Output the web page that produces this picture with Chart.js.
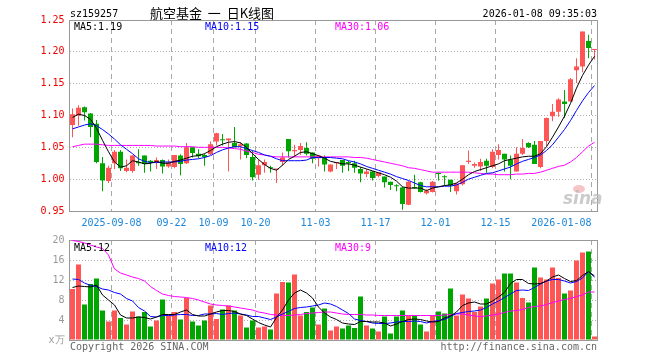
<!DOCTYPE html>
<html>
<head>
<meta charset="utf-8">
<script src="https://cdn.jsdelivr.net/npm/chart.js@4.4.1/dist/chart.umd.min.js"></script>
<style>
    html, body { margin: 0; padding: 0; background: #fff; }
    #wrap { position: relative; width: 660px; height: 360px; }
    #wrap canvas { position: absolute; left: 0; top: 0; }
</style>
</head>
<body>
<div id="wrap">
    <canvas id="kline" width="660" height="360"></canvas>
    <canvas id="vol" width="660" height="360"></canvas>
</div>
<script>
// Trading days shown (2025-08-28 .. 2026-01-08)
const dates = [
    '2025-08-28','2025-08-29','2025-09-01','2025-09-02','2025-09-03','2025-09-04','2025-09-05',
    '2025-09-08','2025-09-09','2025-09-10','2025-09-11','2025-09-12','2025-09-15','2025-09-16',
    '2025-09-17','2025-09-18','2025-09-19','2025-09-22','2025-09-23','2025-09-24','2025-09-25',
    '2025-09-26','2025-09-29','2025-09-30','2025-10-09','2025-10-10','2025-10-13','2025-10-14',
    '2025-10-15','2025-10-16','2025-10-17','2025-10-20','2025-10-21','2025-10-22','2025-10-23',
    '2025-10-24','2025-10-27','2025-10-28','2025-10-29','2025-10-30','2025-10-31','2025-11-03',
    '2025-11-04','2025-11-05','2025-11-06','2025-11-07','2025-11-10','2025-11-11','2025-11-12',
    '2025-11-13','2025-11-14','2025-11-17','2025-11-18','2025-11-19','2025-11-20','2025-11-21',
    '2025-11-24','2025-11-25','2025-11-26','2025-11-27','2025-11-28','2025-12-01','2025-12-02',
    '2025-12-03','2025-12-04','2025-12-05','2025-12-08','2025-12-09','2025-12-10','2025-12-11',
    '2025-12-12','2025-12-15','2025-12-16','2025-12-17','2025-12-18','2025-12-19','2025-12-22',
    '2025-12-23','2025-12-24','2025-12-25','2025-12-26','2025-12-29','2025-12-30','2025-12-31',
    '2026-01-05','2026-01-06','2026-01-07','2026-01-08'
];

const openP = [
    1.085,1.100,1.113,1.103,1.087,1.025,0.997,1.025,1.043,1.013,
    1.013,1.027,1.037,1.029,1.027,1.030,1.020,1.019,1.037,1.025,
    1.050,1.040,1.038,1.039,1.059,1.062,1.061,1.057,1.052,1.056,
    1.035,1.007,1.022,1.018,1.015,1.027,1.063,1.044,1.046,1.049,
    1.042,1.033,1.035,1.012,1.025,1.030,1.027,1.025,1.016,1.008,
    1.012,1.005,1.004,0.996,0.990,0.987,0.960,0.987,0.995,0.978,
    0.980,1.009,1.004,0.999,0.981,0.992,1.027,1.021,1.020,1.029,
    1.019,1.038,1.040,1.031,1.012,1.040,1.057,1.054,1.019,1.060,
    1.099,1.106,1.122,1.122,1.171,1.177,1.217,1.203
];
const highP = [
    1.111,1.116,1.114,1.104,1.093,1.035,1.021,1.046,1.046,1.031,
    1.038,1.047,1.037,1.030,1.034,1.031,1.031,1.038,1.039,1.057,
    1.050,1.047,1.040,1.059,1.073,1.071,1.064,1.082,1.058,1.057,
    1.045,1.031,1.031,1.021,1.016,1.042,1.063,1.054,1.057,1.058,
    1.042,1.037,1.037,1.023,1.027,1.030,1.029,1.029,1.019,1.016,
    1.013,1.011,1.004,0.996,0.992,0.988,0.997,1.007,0.996,0.984,
    0.997,1.011,1.006,0.999,0.994,1.022,1.045,1.026,1.032,1.032,
    1.047,1.055,1.040,1.037,1.050,1.063,1.058,1.060,1.060,1.097,
    1.118,1.127,1.140,1.159,1.190,1.232,1.227,1.204
];
const lowP = [
    1.066,1.084,1.092,1.066,1.025,0.981,0.994,1.016,1.013,1.011,
    1.010,1.021,1.010,1.012,1.016,1.009,1.018,1.017,1.006,1.024,
    1.034,1.033,1.021,1.038,1.053,1.053,1.012,1.050,1.031,1.033,
    0.998,0.999,1.010,1.010,0.994,1.021,1.034,1.035,1.038,1.037,
    1.025,1.020,1.012,1.011,1.016,1.010,1.013,1.010,0.995,1.003,
    0.998,1.003,0.987,0.983,0.981,0.952,0.959,0.985,0.979,0.976,
    0.979,0.998,0.990,0.980,0.976,0.990,1.024,1.018,1.013,1.010,
    1.017,1.031,1.012,1.000,1.012,1.038,1.049,1.024,1.017,1.052,
    1.091,1.098,1.096,1.122,1.151,1.168,1.190,1.188
];
const closeP = [
    1.102,1.112,1.105,1.082,1.027,0.998,1.018,1.043,1.017,1.018,
    1.037,1.025,1.024,1.027,1.030,1.020,1.026,1.038,1.024,1.050,
    1.041,1.036,1.035,1.055,1.072,1.061,1.064,1.050,1.055,1.038,
    1.003,1.022,1.027,1.017,1.016,1.034,1.044,1.046,1.052,1.040,
    1.032,1.037,1.023,1.023,1.027,1.021,1.025,1.018,1.009,1.012,
    1.002,1.011,0.995,0.991,0.989,0.961,0.996,0.986,0.980,0.982,
    0.996,1.008,1.003,0.990,0.993,1.022,1.029,1.024,1.027,1.021,
    1.043,1.046,1.031,1.021,1.040,1.049,1.050,1.024,1.060,1.096,
    1.106,1.125,1.118,1.157,1.177,1.232,1.206,1.204
];

const ma5 = [
    1.097,1.102,1.100,1.094,1.080,1.061,1.043,1.027,1.019,1.021,
    1.029,1.027,1.024,1.025,1.028,1.025,1.025,1.028,1.030,1.033,
    1.036,1.037,1.040,1.045,1.051,1.055,1.058,1.059,1.057,1.050,
    1.040,1.031,1.023,1.017,1.014,1.022,1.031,1.036,1.042,1.043,
    1.040,1.037,1.033,1.028,1.026,1.024,1.024,1.022,1.019,1.016,
    1.013,1.010,1.007,1.003,0.997,0.988,0.986,0.986,0.986,0.982,
    0.986,0.988,0.990,0.991,0.994,1.000,1.007,1.012,1.015,1.018,
    1.021,1.024,1.029,1.031,1.033,1.035,1.036,1.036,1.040,1.051,
    1.066,1.082,1.099,1.119,1.143,1.163,1.179,1.193
];
const ma10 = [
    1.079,1.082,1.085,1.087,1.084,1.078,1.071,1.063,1.054,1.047,
    1.040,1.032,1.028,1.026,1.026,1.027,1.027,1.027,1.028,1.030,
    1.031,1.032,1.034,1.037,1.042,1.046,1.049,1.051,1.051,1.048,
    1.045,1.042,1.038,1.036,1.032,1.029,1.029,1.029,1.029,1.030,
    1.034,1.034,1.034,1.034,1.033,1.032,1.029,1.027,1.024,1.020,
    1.017,1.014,1.011,1.008,1.004,1.001,0.998,0.994,0.990,0.988,
    0.988,0.988,0.989,0.989,0.991,0.995,1.000,1.003,1.006,1.009,
    1.010,1.013,1.016,1.019,1.024,1.028,1.031,1.034,1.038,1.045,
    1.054,1.066,1.078,1.092,1.108,1.123,1.136,1.147
];
const ma30 = [
    1.051,1.053,1.055,1.055,1.055,1.054,1.053,1.053,1.053,1.053,
    1.053,1.053,1.053,1.053,1.052,1.052,1.052,1.052,1.051,1.051,
    1.051,1.050,1.050,1.050,1.050,1.050,1.049,1.048,1.047,1.044,
    1.042,1.039,1.038,1.036,1.035,1.035,1.035,1.035,1.035,1.035,
    1.035,1.035,1.035,1.035,1.035,1.035,1.035,1.034,1.034,1.033,
    1.031,1.029,1.027,1.025,1.023,1.021,1.018,1.017,1.015,1.013,
    1.011,1.011,1.011,1.011,1.011,1.011,1.011,1.010,1.009,1.008,
    1.008,1.007,1.007,1.007,1.008,1.008,1.009,1.009,1.011,1.014,
    1.017,1.020,1.022,1.027,1.034,1.043,1.052,1.058
];

// volume in 万 (10k) units
const volume = [
    10.2,15.1,7.1,11.2,12.3,5.9,3.7,5.9,4.4,3.1,
    5.7,4.7,5.6,2.7,3.9,8.1,5.1,5.6,4.1,8.4,
    3.7,2.9,3.9,6.9,4.2,6.1,6.9,5.9,4.9,2.5,
    3.9,2.5,2.7,2.1,9.3,11.6,11.5,13.1,4.9,5.6,
    6.5,3.1,6.3,1.9,2.7,2.3,2.9,2.4,8.7,2.9,
    2.3,1.7,4.7,1.3,4.7,5.9,4.9,4.9,3.1,1.7,
    4.9,5.7,5.3,10.3,4.9,9.1,8.3,5.6,6.7,8.3,
    11.3,12.1,13.3,13.3,11.5,8.4,7.5,14.5,12.5,12.1,
    14.5,12.4,9.3,9.9,15.9,17.5,17.7,0.7
];
const volMa5 = [
    10.5,10.8,10.7,10.6,11.0,9.0,8.0,7.0,5.0,4.4,
    4.4,4.6,4.5,4.2,4.6,5.1,5.1,5.1,5.6,6.0,
    5.1,4.8,4.8,5.2,5.6,5.9,5.9,5.7,5.2,4.9,
    4.2,3.5,3.0,2.6,4.5,6.0,8.0,9.4,10.0,9.4,
    8.4,6.6,5.4,4.6,4.1,3.4,3.2,3.1,3.7,3.7,
    3.6,3.6,3.4,2.8,3.2,3.7,4.1,4.2,4.1,3.8,
    3.6,3.7,4.4,4.8,5.6,6.9,7.4,7.6,7.2,7.2,
    7.8,8.6,9.5,11.3,12.1,12.1,11.3,11.2,11.3,11.8,
    12.6,13.0,12.3,11.7,11.9,12.9,13.7,12.8
];
const volMa10 = [
    12.2,12.1,11.4,10.9,10.7,10.2,10.0,9.5,9.2,8.3,
    7.8,6.5,5.8,4.7,4.6,4.9,4.9,5.0,5.1,5.1,
    4.9,4.9,5.2,5.2,5.3,5.1,5.3,5.4,5.2,5.0,
    4.7,4.7,4.4,4.1,4.6,5.2,5.7,6.3,6.5,6.6,
    6.8,7.0,7.4,7.2,6.7,6.0,5.3,4.2,3.9,3.7,
    3.4,3.3,3.3,3.4,3.6,3.7,3.7,3.8,3.7,3.4,
    3.7,3.9,4.1,4.7,5.3,5.5,5.7,5.8,6.0,6.5,
    7.2,7.8,8.5,9.2,9.9,10.0,9.9,10.5,11.2,11.8,
    12.1,12.1,11.8,11.4,11.7,12.4,13.7,12.6
];
const volMa30 = [
    19.9,19.7,19.4,19.0,18.6,18.3,17.0,14.2,13.4,13.0,
    12.6,12.3,11.8,10.7,9.9,9.2,8.9,8.7,8.6,8.5,
    8.3,8.0,7.6,7.2,7.0,6.9,6.8,6.6,6.4,6.2,
    6.0,5.6,5.4,5.1,5.0,4.9,4.9,5.0,5.1,5.3,
    5.4,5.5,5.6,5.6,5.4,5.2,5.1,5.1,5.1,5.0,
    5.0,4.9,4.9,4.9,4.9,4.9,4.9,4.9,4.9,4.9,
    4.9,4.9,5.0,5.1,5.2,5.2,5.0,4.8,4.7,4.8,
    5.0,5.2,5.5,5.8,5.9,6.1,6.5,6.7,6.8,7.1,
    7.5,7.8,8.1,8.3,8.7,9.0,9.6,9.6
];

// date axis labels
const tickDates = ['2025-09-08','2025-09-22','2025-10-09','2025-10-20','2025-11-03',
                   '2025-11-17','2025-12-01','2025-12-15','2026-01-08'];
const tickTexts = ['2025-09-08','09-22','10-09','10-20','11-03','11-17','12-01','12-15','2026-01-08'];

const RED = '#ff5555';
const GREEN = '#00a600';
const MONO = '10px "DejaVu Sans Mono", "Noto Sans CJK SC", monospace';

const candleColors = dates.map((d, i) => closeP[i] >= openP[i] ? RED : GREEN);
const bodies = dates.map((d, i) => [Math.min(openP[i], closeP[i]), Math.max(openP[i], closeP[i])]);
const wicks = dates.map((d, i) => [lowP[i], highP[i]]);
const tickIdx = tickDates.map(d => dates.indexOf(d));

// dashed verticals only on the labelled days
const vGrid = (ctx) => tickIdx.includes(ctx.index) ? '#a8a8a8' : 'rgba(0,0,0,0)';

function maLine(data, color) {
    return {
        type: 'line', data: data, borderColor: color, borderWidth: 1,
        pointRadius: 0, tension: 0, fill: false, order: 0
    };
}

// grey box round the plot
const frame = {
    id: 'frame',
    beforeDatasetsDraw(chart) {
        const a = chart.chartArea;
        const c = chart.ctx;
        const l = Math.floor(a.left) + 0.5, t = Math.floor(a.top) + 0.5;
        const r = Math.floor(a.right) + 0.5, b = Math.floor(a.bottom) + 0.5;
        c.save();
        c.strokeStyle = '#999';
        c.lineWidth = 1;
        c.strokeRect(l, t, r - l, b - t);
        c.restore();
    }
};

function legend(c, y, items) {
    c.font = MONO;
    c.textAlign = 'left';
    c.textBaseline = 'alphabetic';
    items.forEach(([txt, x, color]) => {
        c.fillStyle = color;
        c.fillText(txt, x, y);
    });
}

const priceText = {
    id: 'priceText',
    afterDraw(chart) {
        const c = chart.ctx;
        const xs = chart.scales.x;
        const slot = (chart.chartArea.right - chart.chartArea.left) / dates.length;
        c.save();
        c.textBaseline = 'alphabetic';
        c.fillStyle = '#000';
        c.font = MONO;
        c.textAlign = 'left';
        c.fillText('sz159257', 70, 17);
        c.textAlign = 'right';
        c.fillText('2026-01-08 09:35:03', 597, 17);
        c.textAlign = 'left';
        c.font = '13px "Noto Sans CJK SC"';
        c.fillText('航空基金  一  日K线图', 150, 18);

        legend(c, 30, [['MA5:1.19', 74, '#000'], ['MA10:1.15', 205, '#0000ff'], ['MA30:1.06', 335, '#ff00ff']]);

        // date labels under the plot
        c.font = MONO;
        c.fillStyle = '#1a86d9';
        tickIdx.forEach((idx, k) => {
            const x = xs.getPixelForValue(idx) - slot / 2;
            c.textAlign = k === tickIdx.length - 1 ? 'right' : 'center';
            c.fillText(tickTexts[k], x, 226);
        });

        // sina watermark
        c.fillStyle = 'rgba(240,150,150,0.55)';
        c.beginPath();
        c.ellipse(579, 189, 6, 4, 0, 0, Math.PI * 2);
        c.fill();
        c.font = 'italic bold 17px "DejaVu Sans"';
        c.fillStyle = 'rgba(185,185,185,0.75)';
        c.textAlign = 'left';
        c.fillText('sina', 563, 204);
        c.restore();
    }
};

const volText = {
    id: 'volText',
    afterDraw(chart) {
        const c = chart.ctx;
        c.save();
        legend(c, 251, [['MA5:12', 74, '#000'], ['MA10:12', 205, '#0000ff'], ['MA30:9', 335, '#ff00ff']]);
        c.fillStyle = '#666';
        c.textAlign = 'left';
        c.fillText('Copyright 2026 SINA.COM', 70, 350);
        c.textAlign = 'right';
        c.fillText('http://finance.sina.com.cn', 597, 350);
        c.restore();
    }
};

const xScale = {
    offset: true,
    grid: { offset: true, color: vGrid, drawTicks: false, lineWidth: 1 },
    border: { display: false, dash: [5, 4] },
    ticks: { display: false, autoSkip: false },
    afterFit(s) { s.height = 0; }
};

Chart.defaults.font.family = '"DejaVu Sans Mono", monospace';

// K-line chart
new Chart(document.getElementById('kline'), {
    type: 'bar',
    data: {
        labels: dates,
        datasets: [
            maLine(ma5, '#000000'),
            maLine(ma10, '#0000ff'),
            maLine(ma30, '#ff00ff'),
            {
                data: bodies, backgroundColor: candleColors, barThickness: 5,
                grouped: false, minBarLength: 1, inflateAmount: 0, order: 1
            },
            {
                data: wicks, backgroundColor: candleColors, barThickness: 1,
                grouped: false, inflateAmount: 0, order: 2
            }
        ]
    },
    options: {
        responsive: false,
        animation: false,
        devicePixelRatio: 1,
        layout: { padding: { left: 0, right: 62.5, top: 20, bottom: 149 } },
        plugins: { legend: { display: false }, tooltip: { enabled: false } },
        scales: {
            x: xScale,
            y: {
                min: 0.95,
                max: 1.25,
                afterFit(s) { s.width = 69.5; },
                ticks: {
                    stepSize: 0.05,
                    color: '#ee0000',
                    font: { size: 10 },
                    padding: 5,
                    callback: (v) => Number(v).toFixed(2)
                },
                grid: { color: '#b0b0b0', drawTicks: false },
                border: { display: false, dash: [1, 2] }
            }
        }
    },
    plugins: [frame, priceText]
});

// Volume chart
new Chart(document.getElementById('vol'), {
    type: 'bar',
    data: {
        labels: dates,
        datasets: [
            maLine(volMa5, '#000000'),
            maLine(volMa10, '#0000ff'),
            maLine(volMa30, '#ff00ff'),
            {
                data: volume, backgroundColor: candleColors, barThickness: 5,
                inflateAmount: 0, order: 1
            }
        ]
    },
    options: {
        responsive: false,
        animation: false,
        devicePixelRatio: 1,
        layout: { padding: { left: 0, right: 62.5, top: 240, bottom: 20 } },
        plugins: { legend: { display: false }, tooltip: { enabled: false } },
        scales: {
            x: xScale,
            y: {
                min: 0,
                max: 20,
                afterFit(s) { s.width = 69.5; },
                ticks: {
                    stepSize: 4,
                    color: '#999',
                    font: { size: 10 },
                    padding: 5,
                    callback: (v) => v === 0 ? 'x万' : v
                },
                grid: { color: '#b0b0b0', drawTicks: false },
                border: { display: false, dash: [1, 2] }
            }
        }
    },
    plugins: [frame, volText]
});
</script>
</body>
</html>
